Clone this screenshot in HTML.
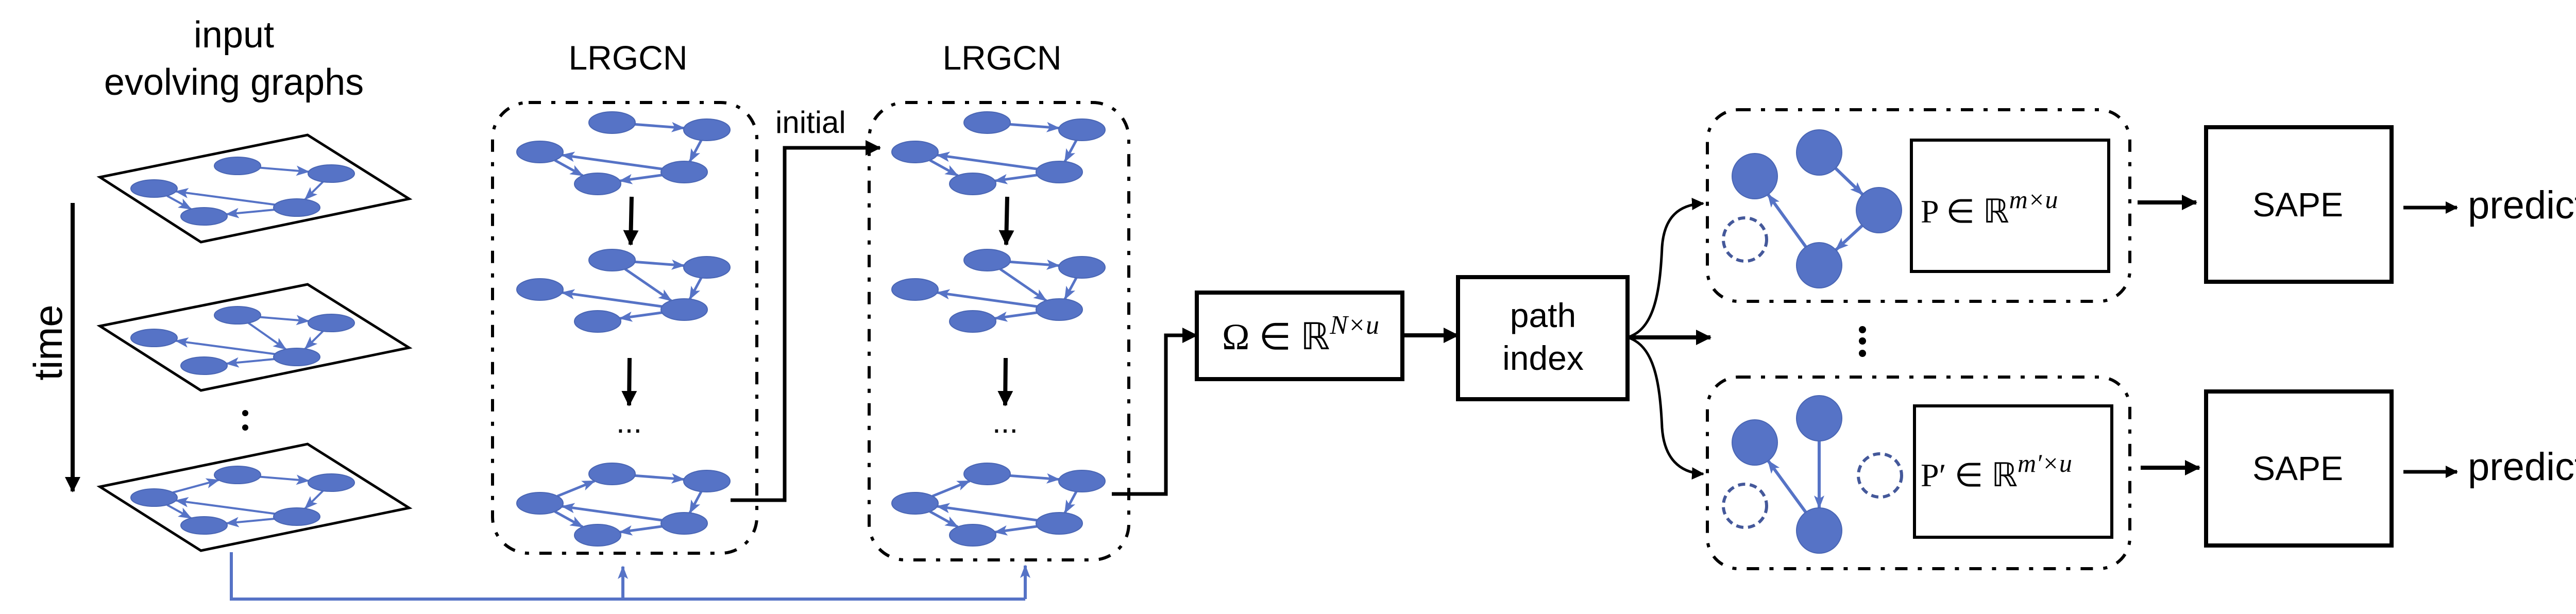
<!DOCTYPE html>
<html><head><meta charset="utf-8"><style>
html,body{margin:0;padding:0;background:#fff;}
svg{display:block;}
text{font-family:"Liberation Sans",sans-serif;fill:#000;}
.m{font-family:"Liberation Serif",serif;}
</style></head><body>
<svg id="s" width="5184" height="1192" viewBox="0 0 5184 1192" xmlns="http://www.w3.org/2000/svg">
<defs>
<marker id="bh" markerUnits="userSpaceOnUse" markerWidth="26" markerHeight="20" refX="24" refY="10" orient="auto"><path d="M0,0 L26,10 L0,20 L6,10 Z" fill="#5673c6"/></marker>
<marker id="kh" markerUnits="userSpaceOnUse" markerWidth="30" markerHeight="30" refX="28" refY="15" orient="auto"><path d="M0,0 L30,15 L0,30 Z" fill="#000"/></marker>
<marker id="kh2" markerUnits="userSpaceOnUse" markerWidth="24" markerHeight="24" refX="22" refY="12" orient="auto"><path d="M0,0 L24,12 L0,24 Z" fill="#000"/></marker>
</defs>
<g id="edges"></g>
<g id="nodes"></g>

<!-- labels -->
<text x="454" y="92" font-size="72" text-anchor="middle">input</text>
<text x="454" y="184" font-size="72" text-anchor="middle">evolving graphs</text>
<text transform="translate(120,665) rotate(-90)" font-size="78" text-anchor="middle">time</text>
<line x1="141" y1="394" x2="141" y2="954" stroke="#000" stroke-width="8" marker-end="url(#kh)"/>

<!-- planes -->
<polygon points="194,344 597,262 794,386 390,470" fill="none" stroke="#000" stroke-width="5"/>
<polygon points="194,633 597,552 794,675 390,758" fill="none" stroke="#000" stroke-width="5"/>
<polygon points="194,945 597,862 794,986 390,1069" fill="none" stroke="#000" stroke-width="5"/>
<circle cx="476" cy="802" r="6"/><circle cx="476" cy="830" r="6"/>

<!-- LRGCN boxes -->
<text x="1219" y="135" font-size="66" text-anchor="middle">LRGCN</text>
<text x="1945" y="135" font-size="66" text-anchor="middle">LRGCN</text>
<rect x="956" y="199" width="513" height="875" rx="70" fill="none" stroke="#000" stroke-width="6" stroke-dasharray="24 20 8 20"/>
<rect x="1687" y="199" width="504" height="888" rx="70" fill="none" stroke="#000" stroke-width="6" stroke-dasharray="24 20 8 20"/>
<line x1="1226" y1="382" x2="1224" y2="475" stroke="#000" stroke-width="8" marker-end="url(#kh)"/>
<line x1="1222" y1="695" x2="1221" y2="787" stroke="#000" stroke-width="8" marker-end="url(#kh)"/>
<line x1="1955" y1="382" x2="1953" y2="475" stroke="#000" stroke-width="8" marker-end="url(#kh)"/>
<line x1="1952" y1="695" x2="1951" y2="787" stroke="#000" stroke-width="8" marker-end="url(#kh)"/>
<text x="1221" y="840" font-size="60" text-anchor="middle">...</text>
<text x="1951" y="840" font-size="60" text-anchor="middle">...</text>

<!-- initial connector -->
<text x="1505" y="258" font-size="60">initial</text>
<polyline points="1418,971 1523,971 1523,287 1708,287" fill="none" stroke="#000" stroke-width="7" marker-end="url(#kh)"/>
<polyline points="2158,959 2263,959 2263,651 2323,651" fill="none" stroke="#000" stroke-width="7" marker-end="url(#kh)"/>

<!-- blue feedback -->
<polyline points="449,1072 449,1163 1990,1163" fill="none" stroke="#5673c6" stroke-width="6"/>
<line x1="1209" y1="1163" x2="1209" y2="1100" stroke="#5673c6" stroke-width="6" marker-end="url(#bh)"/>
<line x1="1990" y1="1163" x2="1990" y2="1098" stroke="#5673c6" stroke-width="6" marker-end="url(#bh)"/>

<!-- Omega box -->
<rect x="2323" y="568" width="399" height="168" fill="none" stroke="#000" stroke-width="8"/>
<text class="m" x="2372" y="678" font-size="72">Ω ∈ ℝ<tspan font-style="italic" font-size="52" dy="-30">N×u</tspan></text>
<line x1="2722" y1="651" x2="2830" y2="651" stroke="#000" stroke-width="8" marker-end="url(#kh)"/>

<!-- path index -->
<rect x="2830" y="538" width="329" height="237" fill="none" stroke="#000" stroke-width="8"/>
<text x="2995" y="635" font-size="66" text-anchor="middle">path</text>
<text x="2995" y="718" font-size="66" text-anchor="middle">index</text>

<!-- split -->
<path d="M3159,655 C3210,640 3222,570 3226,480 C3230,420 3260,397 3306,395" fill="none" stroke="#000" stroke-width="5" marker-end="url(#kh2)"/>
<path d="M3159,655 C3210,670 3222,740 3226,830 C3230,890 3260,918 3306,920" fill="none" stroke="#000" stroke-width="5" marker-end="url(#kh2)"/>
<line x1="3159" y1="655" x2="3320" y2="655" stroke="#000" stroke-width="8" marker-end="url(#kh)"/>
<circle cx="3615" cy="640" r="7"/><circle cx="3615" cy="662" r="7"/><circle cx="3615" cy="686" r="7"/>

<!-- module boxes -->
<rect x="3314" y="213" width="820" height="372" rx="60" fill="none" stroke="#000" stroke-width="6" stroke-dasharray="24 20 8 20"/>
<rect x="3314" y="732" width="820" height="372" rx="60" fill="none" stroke="#000" stroke-width="6" stroke-dasharray="24 20 8 20"/>
<rect x="3710" y="272" width="383" height="255" fill="none" stroke="#000" stroke-width="6"/>
<rect x="3716" y="788" width="383" height="255" fill="none" stroke="#000" stroke-width="6"/>
<text class="m" x="3728" y="432" font-size="64">P ∈ ℝ<tspan font-style="italic" font-size="50" dy="-28">m×u</tspan></text>
<text class="m" x="3728" y="944" font-size="64">P′ ∈ ℝ<tspan font-style="italic" font-size="50" dy="-28">m′×u</tspan></text>

<!-- SAPE -->
<line x1="4149" y1="393" x2="4263" y2="393" stroke="#000" stroke-width="8" marker-end="url(#kh)"/>
<line x1="4155" y1="908" x2="4269" y2="908" stroke="#000" stroke-width="8" marker-end="url(#kh)"/>
<rect x="4282" y="247" width="360" height="300" fill="none" stroke="#000" stroke-width="8"/>
<rect x="4282" y="760" width="360" height="299" fill="none" stroke="#000" stroke-width="8"/>
<text x="4460" y="420" font-size="66" text-anchor="middle">SAPE</text>
<text x="4460" y="932" font-size="66" text-anchor="middle">SAPE</text>
<line x1="4665" y1="403" x2="4769" y2="403" stroke="#000" stroke-width="7" marker-end="url(#kh2)"/>
<line x1="4665" y1="916" x2="4769" y2="916" stroke="#000" stroke-width="7" marker-end="url(#kh2)"/>
<text x="4790" y="424" font-size="76">prediction</text>
<text x="4790" y="932" font-size="76">prediction</text>
</svg>
<script>
(function(){
var NS="http://www.w3.org/2000/svg";
var E=document.getElementById("edges"),N=document.getElementById("nodes");
var col="#5673c6";
function el(t,a,p){var e=document.createElementNS(NS,t);for(var k in a)e.setAttribute(k,a[k]);p.appendChild(e);return e;}
function edge(a,b,rx,ry,sw){
 var dx=b[0]-a[0],dy=b[1]-a[1],L=Math.sqrt(dx*dx+dy*dy);
 var t=1/Math.sqrt((dx/rx)*(dx/rx)+(dy/ry)*(dy/ry));
 var x1=a[0]+dx*t,y1=a[1]+dy*t,x2=b[0]-dx*t,y2=b[1]-dy*t;
 el("line",{x1:x1,y1:y1,x2:x2,y2:y2,stroke:col,"stroke-width":sw,"marker-end":"url(#bh)"},E);
}
function graph(base,dx,dy,type,rx,ry,sw){
 var n={};for(var k in base)n[k]=[base[k][0]+dx,base[k][1]+dy];
 var es={1:[["A","B"],["B","D"],["D","C"],["C","E"],["D","E"]],
         2:[["A","B"],["A","D"],["B","D"],["D","C"],["D","E"]],
         3:[["C","A"],["A","B"],["B","D"],["D","C"],["C","E"],["D","E"]]}[type];
 es.forEach(function(e){edge(n[e[0]],n[e[1]],rx,ry,sw);});
 for(var k in n)el("ellipse",{cx:n[k][0],cy:n[k][1],rx:rx,ry:ry,fill:col,stroke:"#4a66b4","stroke-width":2},N);
}
var P={A:[461,322],B:[643,337],C:[299,366],D:[576,403],E:[396,420]};
graph(P,0,0,1,45,17,4);graph(P,0,290,2,45,17,4);graph(P,0,600,3,45,17,4);
var G={A:[1188,238],B:[1372,252],C:[1048,295],D:[1328,334],E:[1160,357]};
[0,728].forEach(function(sx){graph(G,sx,0,1,45,21,5);graph(G,sx,267,2,45,21,5);graph(G,sx,682,3,45,21,5);});
// module graphs
function circ(x,y,d){if(d)el("circle",{cx:x,cy:y,r:42,fill:"none",stroke:"#44589a","stroke-width":6,"stroke-dasharray":"14 9"},N);else el("circle",{cx:x,cy:y,r:44,fill:col,stroke:"#4a66b4","stroke-width":2},N);}
edge([3531,296],[3647,408],44,44,6);edge([3647,408],[3531,515],44,44,6);edge([3531,515],[3406,342],44,44,6);
circ(3531,296);circ(3406,342);circ(3647,408);circ(3531,515);circ(3387,465,1);
edge([3531,812],[3531,1030],44,44,6);edge([3531,1030],[3406,859],44,44,6);
circ(3406,859);circ(3531,812);circ(3531,1030);circ(3649,923,1);circ(3387,982,1);
})();
</script>
</body></html>
